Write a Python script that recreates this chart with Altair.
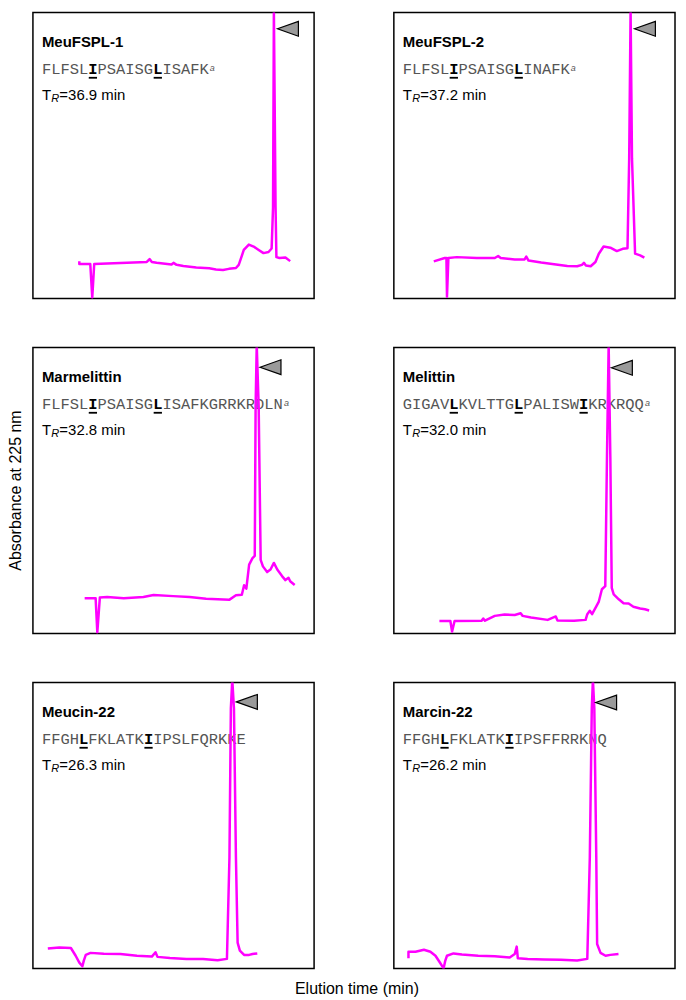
import altair as alt
import pandas as pd

# ---------------- data ----------------
names = ["MeuFSPL-1", "MeuFSPL-2", "Marmelittin", "Melittin", "Meucin-22", "Marcin-22"]
sequences = [
    "FLFSLIPSAISGLISAFK",
    "FLFSLIPSAISGLINAFK",
    "FLFSLIPSAISGLISAFKGRRKRDLN",
    "GIGAVLKVLTTGLPALISWIKRKRQQ",
    "FFGHLFKLATKIIPSLFQRKKE",
    "FFGHLFKLATKIIPSFFRRKNQ",
]
bold_positions = [[5, 12], [5, 12], [5, 12], [5, 12, 19], [4, 11], [4, 11]]
footnote = ["a", "a", "a", "a", "", ""]
retention = [36.9, 37.2, 32.8, 32.0, 26.3, 26.2]

# traces: elution time (% of window) and absorbance (% of panel full scale)
t1 = [16.5, 16.5, 20.4, 21.1, 21.8, 26.4, 33.5, 40.5, 41.5, 42.3, 44.0, 49.3, 50.0, 51.1, 53.5, 58.1,
      62.7, 65.1, 67.6, 69.7, 72.2, 73.2, 73.9, 75.0, 76.8, 78.5, 80.3, 82.0, 83.8, 84.9, 85.4, 85.7,
      86.3, 86.6, 87.7, 89.8, 91.5]
a1 = [13.1, 12.1, 12.1, 0.3, 12.1, 12.3, 12.5, 12.8, 13.8, 12.8, 12.5, 11.9, 12.5, 11.8, 11.4, 10.9,
      10.6, 10.2, 10.0, 10.4, 10.7, 11.8, 13.8, 17.0, 18.9, 18.2, 17.0, 15.9, 16.3, 17.5, 31.8, 101,
      31.8, 14.5, 14.2, 14.4, 13.1]

t2 = [14.2, 18.1, 18.7, 18.9, 19.4, 22.4, 29.5, 35.9, 37.1, 38.0, 43.0, 46.5, 47.1, 47.9, 52.4, 57.0,
      61.7, 65.2, 66.9, 67.6, 68.3, 70.0, 71.7, 72.9, 74.6, 77.0, 79.3, 81.4, 83.1, 83.7, 84.2, 84.7,
      85.8, 87.6, 89.1]
a2 = [13.0, 14.2, 14.2, 0.7, 14.2, 14.5, 14.2, 14.2, 14.9, 14.2, 13.7, 13.7, 14.7, 13.3, 12.6, 12.0,
      11.4, 11.3, 11.8, 12.5, 11.6, 11.3, 12.8, 15.7, 18.2, 17.8, 16.6, 17.4, 17.6, 49, 101, 49,
      15.7, 15.1, 14.3]

t3 = [18.4, 22.3, 22.9, 23.8, 26.4, 32.3, 39.3, 42.9, 49.9, 55.7, 61.6, 69.8, 72.2, 74.3, 75.1, 75.9,
      76.9, 78.1, 78.9, 79.2, 79.6, 80.3, 81.0, 81.8, 83.3, 84.5, 85.7, 86.9, 88.6, 89.8, 90.9, 91.5, 93.1]
a3 = [12.4, 12.4, 0.4, 12.6, 12.8, 12.4, 12.8, 13.5, 13.1, 12.8, 12.2, 11.8, 13.4, 13.6, 16.9, 15.7,
      24.1, 26.4, 27.2, 78.9, 101, 78.9, 25.8, 23.5, 21.5, 22.4, 24.7, 22.4, 20.1, 18.7, 19.5, 18.3, 17.0]

t4 = [16.2, 20.1, 20.7, 21.6, 31.2, 31.8, 32.4, 35.9, 39.4, 43.0, 45.1, 45.8, 48.8, 54.7, 57.6, 58.2,
      64.1, 68.2, 68.8, 69.7, 70.5, 72.1, 72.9, 74.0, 75.2, 75.8, 76.4, 77.0, 77.5, 78.2, 80.0, 81.7,
      83.5, 85.2, 87.6, 89.3, 90.8]
a4 = [4.4, 4.4, 0.7, 4.4, 4.5, 5.3, 4.5, 6.2, 6.7, 6.5, 7.1, 6.2, 5.6, 4.8, 6.0, 4.6,
      4.5, 4.8, 6.8, 8.0, 6.8, 9.7, 11.2, 15.5, 16.6, 61.6, 101, 61.6, 16.0, 13.7, 12.0, 10.6,
      10.5, 9.4, 8.8, 8.5, 8.1]

t5 = [5.3, 9.4, 13.5, 15.2, 16.5, 17.6, 18.1, 18.8, 20.5, 25.2, 31.1, 37.0, 42.3, 43.6, 44.3, 48.7,
      54.6, 60.5, 65.7, 69.0, 69.9, 70.4, 70.9, 71.5, 72.2, 72.8, 73.6, 75.1, 76.9, 78.1, 79.8]
a5 = [7.0, 7.4, 7.2, 4.5, 2.1, 0.8, 2.8, 4.8, 5.5, 5.2, 5.1, 4.5, 4.2, 5.7, 4.1, 3.7,
      3.4, 3.4, 2.9, 3.4, 39, 91, 101, 91, 39, 9.1, 6.3, 4.8, 4.8, 5.1, 5.3]

t6 = [5.2, 5.2, 7.7, 10.7, 13.0, 14.8, 16.2, 17.7, 18.3, 18.9, 21.2, 24.2, 30.0, 35.9, 41.2, 43.0,
      43.7, 44.1, 47.6, 53.5, 59.4, 65.2, 68.8, 69.7, 70.4, 70.8, 71.3, 72.0, 72.3, 73.5, 75.3, 77.0, 79.9]
a6 = [3.6, 5.9, 5.9, 6.6, 5.9, 4.5, 2.4, 0.1, 2.8, 4.5, 5.3, 4.9, 4.5, 4.3, 3.9, 5.1,
      7.7, 3.6, 3.4, 3.2, 3.1, 2.8, 3.4, 39, 91, 101, 91, 39, 8.6, 5.5, 4.5, 4.8, 5.1]

traces_t = [t1, t2, t3, t4, t5, t6]
traces_a = [a1, a2, a3, a4, a5, a6]

# peak markers (grey arrowheads)
marker_t = [90.7, 89.3, 84.5, 81.1, 76.1, 75.5]
marker_a = [94.3, 94.3, 93.1, 92.9, 93.2, 93.0]

# ---------------- styling ----------------
W, H = 282, 287
SANS = "Arial, Liberation Sans, sans-serif"
MONO = "Courier New, Liberation Mono, monospace"
SEQ_SIZE = 15.5
CHAR_W = 0.6 * SEQ_SIZE
MAGENTA = "#ff00ff"
X0 = 9

xs = alt.Scale(domain=[0, 100])
ys = alt.Scale(domain=[0, 100])


def runs(seq, bp):
    """split a sequence into (start, text, is_bold) runs"""
    out = []
    start = 0
    for k in range(1, len(seq) + 1):
        if k == len(seq) or (k in bp) != (start in bp) or k in bp:
            out.append((start, seq[start:k], start in bp))
            start = k
    return out


def make_panel(i):
    trace = pd.DataFrame({"t": traces_t[i], "a": traces_a[i], "i": list(range(len(traces_t[i])))})
    seq = sequences[i]
    bp = bold_positions[i]
    info = pd.DataFrame([{
        "name": names[i], "sup": footnote[i], "T": "T", "R": "R",
        "rt": f"={retention[i]:.1f} min", "mt": marker_t[i], "ma": marker_a[i],
    }])
    base = alt.Chart(info)
    layers = []
    layers.append(base.mark_text(align="left", baseline="alphabetic", font=SANS, fontSize=15,
                                 fontWeight="bold", color="black").encode(
        x=alt.value(X0), y=alt.value(35), text="name:N"))
    for start, txt, is_bold in runs(seq, bp):
        rb = alt.Chart(pd.DataFrame([{"s": txt}]))
        if is_bold:
            layers.append(rb.mark_text(align="left", baseline="alphabetic", font=MONO, fontSize=SEQ_SIZE,
                                       fontWeight="bold", color="black").encode(
                x=alt.value(X0 + start * CHAR_W), y=alt.value(62), text="s:N"))
            layers.append(rb.mark_rule(color="black", strokeWidth=1.8).encode(
                x=alt.value(X0 + start * CHAR_W + 0.5), x2=alt.value(X0 + (start + 1) * CHAR_W - 0.5),
                y=alt.value(65.5)))
        else:
            layers.append(rb.mark_text(align="left", baseline="alphabetic", font=MONO, fontSize=SEQ_SIZE,
                                       color="#555555").encode(
                x=alt.value(X0 + start * CHAR_W), y=alt.value(62), text="s:N"))
    layers.append(base.mark_text(align="left", baseline="alphabetic", font=SANS, fontSize=9,
                                 fontStyle="italic", color="#555555").encode(
        x=alt.value(X0 + len(seq) * CHAR_W + 1), y=alt.value(59), text="sup:N"))
    layers.append(base.mark_text(align="left", baseline="alphabetic", font=SANS, fontSize=15,
                                 color="black").encode(x=alt.value(X0), y=alt.value(88), text="T:N"))
    layers.append(base.mark_text(align="left", baseline="alphabetic", font=SANS, fontSize=11,
                                 fontStyle="italic", color="black").encode(
        x=alt.value(X0 + 9.5), y=alt.value(89.5), text="R:N"))
    layers.append(base.mark_text(align="left", baseline="alphabetic", font=SANS, fontSize=15,
                                 color="black").encode(x=alt.value(X0 + 17.5), y=alt.value(88), text="rt:N"))
    layers.append(alt.Chart(trace).mark_line(color=MAGENTA, strokeWidth=2.5, clip=True,
                                             strokeJoin="round").encode(
        x=alt.X("t:Q", scale=xs, axis=None),
        y=alt.Y("a:Q", scale=ys, axis=None),
        order="i:Q",
    ))
    layers.append(base.mark_point(shape="M-1,0L1,-0.71L1,0.71Z", filled=True, fill="#9a9a9a",
                                  stroke="black", strokeWidth=1.2, size=441, opacity=1).encode(
        x=alt.X("mt:Q", scale=xs, axis=None),
        y=alt.Y("ma:Q", scale=ys, axis=None),
    ))
    return alt.layer(*layers).properties(width=W, height=H)


rows = [alt.hconcat(make_panel(2 * r), make_panel(2 * r + 1), spacing=78) for r in range(3)]

grid = alt.vconcat(*rows, spacing=47, title=alt.TitleParams(
    text="Absorbance at 225 nm", orient="left", anchor="middle", fontSize=16, font=SANS,
    fontWeight="normal", color="black", offset=8))

chart = alt.vconcat(grid, title=alt.TitleParams(
    text="Elution time (min)", orient="bottom", anchor="middle", fontSize=16, font=SANS,
    fontWeight="normal", color="black", offset=12, dx=15),
    padding={"left": 0, "top": 2, "right": 2, "bottom": 2},
).configure_view(stroke="black", strokeWidth=1.5)

chart.save("out.html", embed_options={"renderer": "svg", "actions": False})
